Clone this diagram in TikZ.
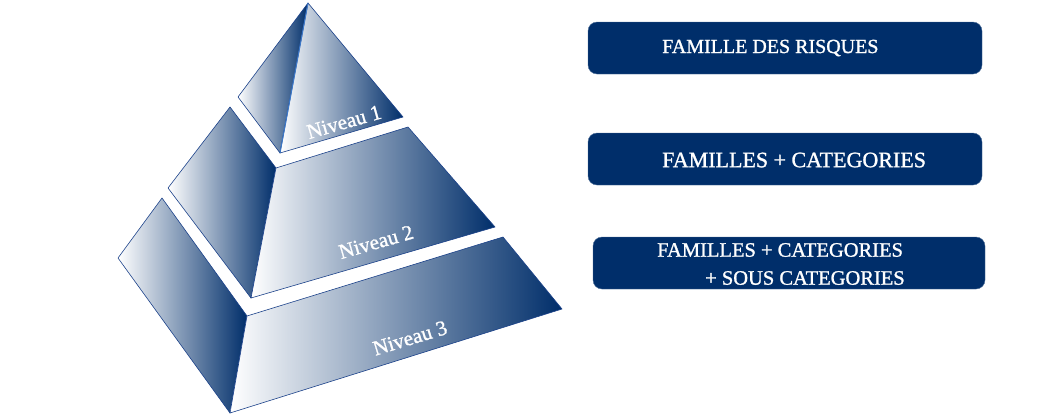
\documentclass[tikz,border=0pt]{standalone}
\usepackage{fontspec}
\setmainfont[FakeBold=1.2]{Liberation Serif}
\definecolor{navy}{RGB}{0,46,106}
\definecolor{edgeblue}{RGB}{28,66,138}
\definecolor{ridgeblue}{RGB}{60,120,200}
\begin{document}
\begin{tikzpicture}[x=1pt,y=-1pt,
  face/.style={left color=white, right color=navy, draw=edgeblue, line width=0.6pt, line join=round},
  niveau/.style={text=white, inner sep=0pt, font=\fontsize{21}{21}\selectfont},
  famille/.style={fill=navy, draw=navy!70, line width=0.4pt, rounded corners=9pt, minimum height=52pt},
  famtext/.style={text=white, inner sep=0pt, anchor=west}]
\useasboundingbox (0,0) rectangle (1038,418);

% niveau 3
\shade[face] (162,198) -- (247,316) -- (230,413) -- (118,258) -- cycle;
\shade[face] (247,316) -- (503,237) -- (562,309) -- (230,413) -- cycle;
\node[niveau, rotate=17] (n3) at (410,338) {Niveau 3};

% niveau 2
\shade[face] (230,107) -- (276,168) -- (251,298) -- (168,188) -- cycle;
\shade[face] (276,168) -- (408,127) -- (495,227) -- (251,298) -- cycle;
\node[niveau, rotate=16] (n2) at (376,242) {Niveau 2};

% niveau 1
\shade[face] (238,97) -- (308,3) -- (280,153) -- cycle;
\shade[face] (308,3) -- (403,117) -- (280,153) -- cycle;
\draw[ridgeblue, line width=1pt] (308,3) -- (280,153);
\node[niveau, rotate=16] (n1) at (344,122) {Niveau 1};

% familles
\node[famille, minimum width=394pt] (f1) at (785,48) {};
\node[famtext, font=\fontsize{20}{20}\selectfont] (t1) at (662,48) {FAMILLE DES RISQUES};

\node[famille, minimum width=394pt] (f2) at (785,159) {};
\node[famtext, font=\fontsize{22}{22}\selectfont] (t2) at (662,160) {FAMILLES + CATEGORIES};

\node[famille, minimum width=392pt] (f3) at (789,263) {};
\node[famtext, align=left, font=\fontsize{20.5}{28}\selectfont] (t3) at (657,264)
  {FAMILLES + CATEGORIES\\\hspace*{48pt}+ SOUS CATEGORIES};
\end{tikzpicture}
\end{document}
